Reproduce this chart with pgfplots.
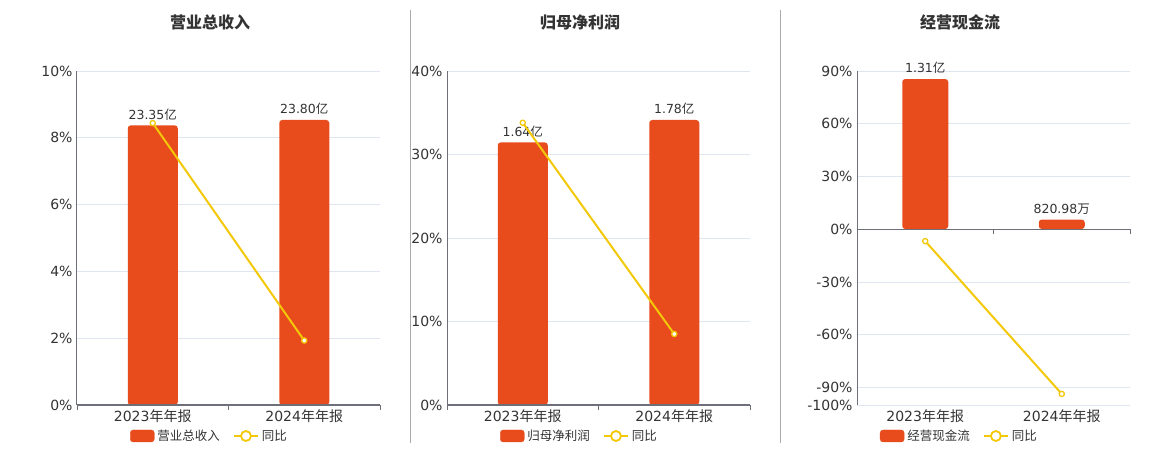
\documentclass[border=0pt]{standalone}
\usepackage{pgfplots}
\pgfplotsset{compat=1.18}
\usepackage{fontspec}
\setmainfont{DejaVu Sans}
\newfontfamily\cjk{Noto Sans CJK SC}

\definecolor{barcol}{HTML}{E84B1C}
\definecolor{linecol}{HTML}{F3C808}
\definecolor{axiscol}{HTML}{6E7079}
\definecolor{gridcol}{HTML}{E0E6F1}
\definecolor{labcol}{HTML}{333333}
\definecolor{sepcol}{HTML}{AAAAAA}

\newcommand{\ticksize}{\fontsize{14}{16}\selectfont}
\newcommand{\smallsize}{\fontsize{12.5}{14}\selectfont}

\pgfplotsset{
  base/.style={scale only axis, height=334pt, xmin=-0.5, xmax=1.5, anchor=south west},
  frame/.style={
    base, axis lines*=left,
    x axis line style={draw=none},
    y axis line style={draw=axiscol, line width=1pt},
    ymajorgrids, grid style={gridcol, line width=0.8pt},
    major tick length=0pt,
    xtick={0,1},
    xticklabels={2023{\cjk 年年报}, 2024{\cjk 年年报}},
    yticklabel={\pgfmathprintnumber{\tick}\%},
    tick label style={font=\ticksize, text=labcol},
    xticklabel style={yshift=-1pt},
    yticklabel style={xshift=-1pt},
    /pgf/number format/assume math mode=true,
    legend columns=2,
    legend style={draw=none, fill=none, anchor=center, font=\smallsize\cjk, text=labcol,
      /tikz/every even column/.append style={column sep=10pt},
      nodes={inner sep=3pt}},
  },
  bars/.style={base, hide axis, ybar, bar width=#1},
  over/.style={base, hide axis, clip=false},
  barplot/.style={fill=barcol, draw=none, rounded corners=3pt,
    nodes near coords, point meta=explicit symbolic,
    every node near coord/.append style={font=\smallsize, text=labcol, anchor=south, inner sep=0pt, yshift=5pt}},
  lineplot/.style={linecol, line width=2pt, mark=*, mark size=2.6pt,
    mark options={fill=white, draw=linecol, line width=1.3pt}},
  barleg/.style={legend image code/.code={\fill[barcol, rounded corners=3pt] (0pt,-6pt) rectangle (24pt,6pt);}},
  lineleg/.style={legend image code/.code={\draw[linecol, line width=2pt] (0pt,0pt) -- (24pt,0pt);
      \draw[linecol, line width=1.8pt, fill=white] (12pt,0pt) circle (5pt);}},
}

% zero line with the three category boundary ticks
\newcommand{\zeroline}{%
  \draw[axiscol, line width=1.4pt] (axis cs:-0.5,0) -- (axis cs:1.5,0);
  \draw[axiscol, line width=1pt] (axis cs:-0.5,0) -- ([yshift=-5pt]axis cs:-0.5,0);
  \draw[axiscol, line width=1pt] (axis cs:0.5,0) -- ([yshift=-5pt]axis cs:0.5,0);
  \draw[axiscol, line width=1pt] (axis cs:1.5,0) -- ([yshift=-5pt]axis cs:1.5,0);
}

\begin{document}
\begin{tikzpicture}
\useasboundingbox (0,0) rectangle (1160pt,450pt);

% separators
\draw[sepcol, line width=0.8pt] (410pt,7pt) -- (410pt,440pt);
\draw[sepcol, line width=0.8pt] (780pt,7pt) -- (780pt,440pt);

% titles
\node[font=\fontsize{16}{18}\selectfont\cjk\bfseries, text=labcol] at (210pt,428pt) {营业总收入};
\node[font=\fontsize{16}{18}\selectfont\cjk\bfseries, text=labcol] at (580pt,428pt) {归母净利润};
\node[font=\fontsize{16}{18}\selectfont\cjk\bfseries, text=labcol] at (960pt,428pt) {经营现金流};

% ---------- panel 1: 营业总收入 ----------
\begin{axis}[frame, at={(77pt,45pt)}, width=303pt,
    ymin=0, ymax=10, ytick={0,2,4,6,8,10},
    legend style={at={(0.439,-0.0928)}}]
  \addlegendimage{barleg}\addlegendentry{营业总收入}
  \addlegendimage{lineleg}\addlegendentry{同比}
\end{axis}
\begin{axis}[bars=50pt, at={(77pt,45pt)}, width=303pt, ymin=0, ymax=27.89]
  \addplot[barplot] coordinates {(0,23.35) [23.35{\cjk 亿}] (1,23.80) [23.80{\cjk 亿}]};
\end{axis}
\begin{axis}[over, at={(77pt,45pt)}, width=303pt, ymin=0, ymax=10]
  \addplot[lineplot] coordinates {(0,8.44) (1,1.93)};
  \zeroline
\end{axis}

% ---------- panel 2: 归母净利润 ----------
\begin{axis}[frame, at={(447pt,45pt)}, width=303pt,
    ymin=0, ymax=40, ytick={0,10,20,30,40},
    legend style={at={(0.439,-0.0928)}}]
  \addlegendimage{barleg}\addlegendentry{归母净利润}
  \addlegendimage{lineleg}\addlegendentry{同比}
\end{axis}
\begin{axis}[bars=50pt, at={(447pt,45pt)}, width=303pt, ymin=0, ymax=2.086]
  \addplot[barplot] coordinates {(0,1.64) [1.64{\cjk 亿}] (1,1.78) [1.78{\cjk 亿}]};
\end{axis}
\begin{axis}[over, at={(447pt,45pt)}, width=303pt, ymin=0, ymax=40]
  \addplot[lineplot] coordinates {(0,33.8) (1,8.5)};
  \zeroline
\end{axis}

% ---------- panel 3: 经营现金流 ----------
\begin{axis}[frame, at={(857pt,45pt)}, width=273pt,
    ymin=-100, ymax=90, ytick={-100,-90,-60,-30,0,30,60,90},
    legend style={at={(0.377,-0.0928)}}]
  \addlegendimage{barleg}\addlegendentry{经营现金流}
  \addlegendimage{lineleg}\addlegendentry{同比}
\end{axis}
\begin{axis}[bars=46pt, at={(857pt,45pt)}, width=273pt, ymin=-1.537, ymax=1.38]
  \addplot[barplot] coordinates {(0,1.31) [1.31{\cjk 亿}] (1,0.0821) [820.98{\cjk 万}]};
\end{axis}
\begin{axis}[over, at={(857pt,45pt)}, width=273pt, ymin=-100, ymax=90]
  \addplot[lineplot] coordinates {(0,-6.8) (1,-93.7)};
  \zeroline
\end{axis}
\end{tikzpicture}
\end{document}
